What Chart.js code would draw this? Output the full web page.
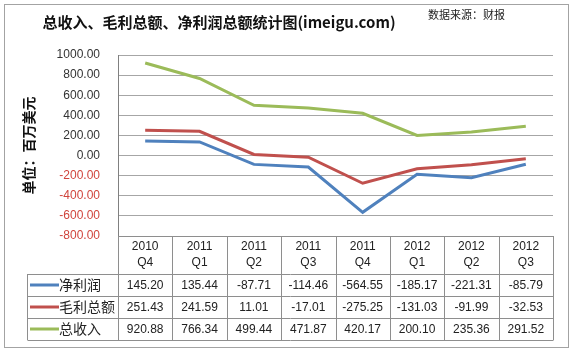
<!DOCTYPE html>
<html>
<head>
<meta charset="utf-8">
<script src="https://cdn.jsdelivr.net/npm/chart.js@4.4.1/dist/chart.umd.min.js"></script>
<style>
  html, body { margin: 0; padding: 0; background: #fff; }
  canvas { display: block; }
</style>
</head>
<body>
<canvas id="chart" width="580" height="350"></canvas>
<script>
// Quarterly periods
const years = ['2010', '2011', '2011', '2011', '2011', '2012', '2012', '2012'];
const quarters = ['Q4', 'Q1', 'Q2', 'Q3', 'Q4', 'Q1', 'Q2', 'Q3'];

// Values in millions of US dollars
const netProfit = [145.20, 135.44, -87.71, -114.46, -564.55, -185.17, -221.31, -85.79];
const grossProfit = [251.43, 241.59, 11.01, -17.01, -275.25, -131.03, -91.99, -32.53];
const totalRevenue = [920.88, 766.34, 499.44, 471.87, 420.17, 200.10, 235.36, 291.52];

const seriesNames = ['净利润', '毛利总额', '总收入'];
const seriesColors = ['#4f81bd', '#c0504d', '#9bbb59'];

const yMin = -800;
const yMax = 1000;
const yStep = 200;

const titleText = '总收入、毛利总额、净利润总额统计图(imeigu.com)';
const sourceText = '数据来源：财报';
const yTitleText = '单位：百万美元';

const labels = years.map((y, i) => [y, quarters[i]]);
const seriesValues = [netProfit, grossProfit, totalRevenue];

const CJK = "'Noto Sans CJK SC', sans-serif";
const NUM = "'Liberation Sans', Arial, sans-serif";
Chart.defaults.font.family = NUM;

// Frame, heading, source note and the data table under the plot
const decorations = {
  id: 'decorations',
  beforeDraw(chart) {
    const ctx = chart.ctx;
    ctx.save();
    ctx.fillStyle = '#ffffff';
    ctx.fillRect(0, 0, chart.width, chart.height);
    ctx.restore();
  },
  afterDraw(chart) {
    const ctx = chart.ctx;
    const area = chart.chartArea;
    const xs = chart.scales.x;
    const n = labels.length;
    const step = (area.right - area.left) / n;
    const headerBottom = area.bottom + 38;
    const rowH = 22;
    const keyLeft = 27;
    const tableBottom = headerBottom + rowH * seriesValues.length;

    ctx.save();
    // outer frame
    ctx.strokeStyle = '#a3a3a3';
    ctx.lineWidth = 1;
    ctx.strokeRect(4.5, 4.5, 564, 343);

    // heading
    ctx.fillStyle = '#111';
    ctx.font = "bold 15px " + CJK;
    ctx.textAlign = 'center';
    ctx.textBaseline = 'middle';
    ctx.fillText(titleText, 219, 22);

    ctx.font = "11px " + CJK;
    ctx.textAlign = 'left';
    ctx.fillStyle = '#222';
    ctx.fillText(sourceText, 428, 15);

    // table grid
    ctx.strokeStyle = '#8e8e8e';
    ctx.lineWidth = 1;
    ctx.beginPath();
    const L = Math.round(area.left) + 0.5;
    const R = Math.round(area.right) + 0.5;
    ctx.moveTo(L, Math.round(area.bottom) + 0.5);
    ctx.lineTo(R, Math.round(area.bottom) + 0.5);
    for (let r = 0; r <= seriesValues.length; r++) {
      const y = Math.round(headerBottom + r * rowH) + 0.5;
      ctx.moveTo(keyLeft + 0.5, y);
      ctx.lineTo(R, y);
    }
    ctx.moveTo(keyLeft + 0.5, headerBottom);
    ctx.lineTo(keyLeft + 0.5, tableBottom);
    ctx.moveTo(L, area.bottom);
    ctx.lineTo(L, tableBottom);
    for (let i = 0; i < n; i++) {
      const x = Math.round(xs.getPixelForValue(i) + step / 2) + 0.5;
      ctx.moveTo(x, area.bottom);
      ctx.lineTo(x, tableBottom);
    }
    ctx.stroke();

    // rows: legend key + values
    seriesValues.forEach((vals, r) => {
      const cy = headerBottom + r * rowH + rowH / 2;
      ctx.strokeStyle = seriesColors[r];
      ctx.lineWidth = 3;
      ctx.beginPath();
      ctx.moveTo(30, cy);
      ctx.lineTo(59, cy);
      ctx.stroke();

      ctx.fillStyle = '#222';
      ctx.font = "14px " + CJK;
      ctx.textAlign = 'left';
      ctx.textBaseline = 'middle';
      ctx.fillText(seriesNames[r], 59, cy);

      ctx.font = "12px " + NUM;
      ctx.textAlign = 'center';
      vals.forEach((v, i) => {
        ctx.fillText(v.toFixed(2), xs.getPixelForValue(i), cy + 1);
      });
    });
    ctx.restore();
  }
};

new Chart(document.getElementById('chart'), {
  type: 'line',
  data: {
    labels: labels,
    datasets: seriesNames.map((name, i) => ({
      label: name,
      data: seriesValues[i],
      borderColor: seriesColors[i],
      backgroundColor: seriesColors[i],
      borderWidth: 3,
      pointRadius: 0,
      tension: 0,
      fill: false
    }))
  },
  options: {
    responsive: false,
    animation: false,
    layout: { padding: { left: 16, top: 55, right: 27, bottom: 10 } },
    plugins: {
      legend: { display: false },
      tooltip: { enabled: false },
      title: { display: false }
    },
    scales: {
      x: {
        offset: true,
        grid: { display: false, drawTicks: false },
        border: { display: false },
        ticks: {
          color: '#222',
          font: { size: 12, lineHeight: 1.3 },
          padding: 3,
          maxRotation: 0,
          autoSkip: false
        },
        afterFit(scale) { scale.height = 104; }
      },
      y: {
        min: yMin,
        max: yMax,
        grid: { color: '#a6a6a6', drawTicks: false },
        border: { display: true, color: '#808080' },
        ticks: {
          stepSize: yStep,
          padding: 18,
          font: { size: 12 },
          color: (c) => (c.tick && c.tick.value < 0 ? '#d0443c' : '#333'),
          callback: (v) => Number(v).toFixed(2)
        },
        title: {
          display: true,
          text: yTitleText,
          color: '#111',
          font: { size: 14, weight: 'bold', family: CJK, lineHeight: 1.2 },
          padding: { top: 4, bottom: 0 }
        },
        afterFit(scale) { scale.width = 102; }
      }
    }
  },
  plugins: [decorations]
});
</script>
</body>
</html>
